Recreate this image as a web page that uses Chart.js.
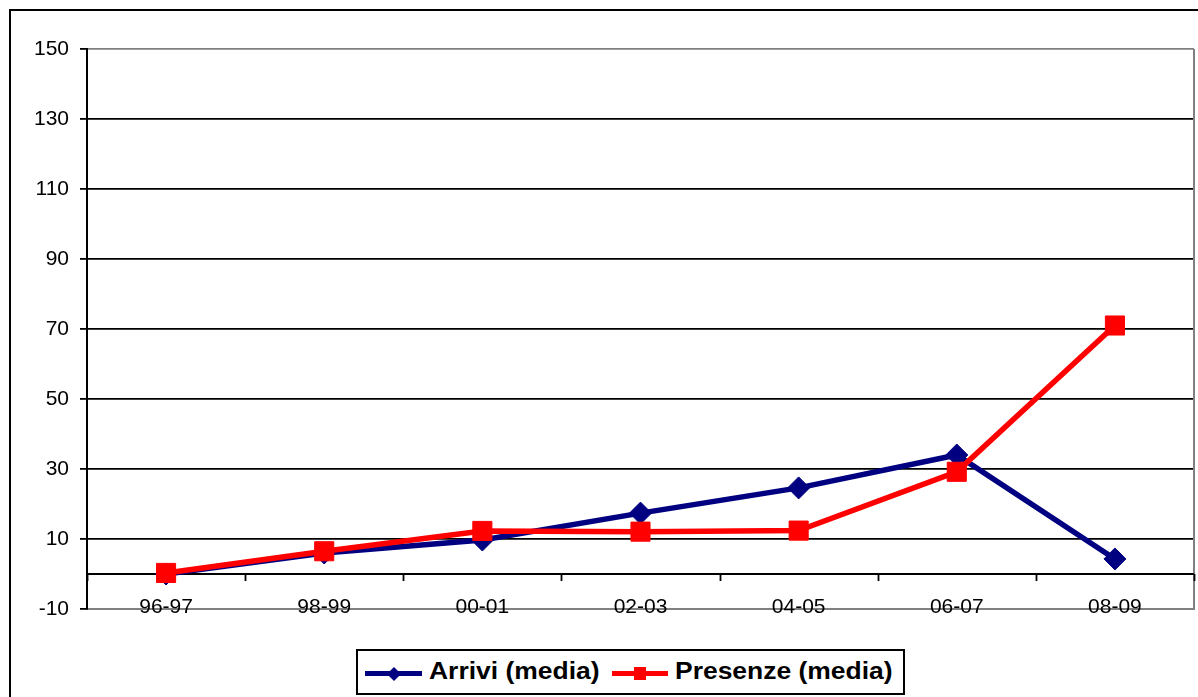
<!DOCTYPE html>
<html>
<head>
<meta charset="utf-8">
<script src="https://cdn.jsdelivr.net/npm/chart.js@4.4.1/dist/chart.umd.min.js"></script>
<style>
  html, body { margin: 0; padding: 0; background: #fff; overflow: hidden; }
  #wrap { position: relative; width: 1198px; height: 697px; }
  #frame { position: absolute; left: 9px; top: 9px; width: 1400px; height: 900px;
           border: 2px solid #000; box-sizing: border-box; }
  #c { position: absolute; left: 0; top: 0; }
  #legend { position: absolute; left: 356px; top: 649px; width: 549px; height: 46px;
            border: 2px solid #000; box-sizing: border-box; background: #fff;
            font-family: "Liberation Sans", Arial, sans-serif; font-weight: bold; font-size: 23px; }
  .sample { position: absolute; top: 20px; height: 5px; }
  .mark { position: absolute; }
  .lbl { position: absolute; top: 7px; line-height: 26px; white-space: nowrap;
         transform: scaleX(1.15); transform-origin: left center; color: #000; }
</style>
</head>
<body>
<div id="wrap">
  <div id="frame"></div>
  <canvas id="c" width="1198" height="697"></canvas>
  <div id="legend"></div>
</div>
<script>
// School years on the category axis
const categories = ['96-97', '98-99', '00-01', '02-03', '04-05', '06-07', '08-09'];
// Average values per year
const arrivi = [0, 6, 9.7, 17.4, 24.6, 34, 4.3];
const presenze = [0.3, 6.5, 12.3, 12.1, 12.4, 29.2, 71];
// Value axis ticks
const yTicks = [-10, 10, 30, 50, 70, 90, 110, 130, 150];

const seriesNames = ['Arrivi (media)', 'Presenze (media)'];
const NAVY = '#000080';
const RED = '#FF0000';
const FONT = '"Liberation Sans", Arial, sans-serif';

// Zero line across the plot with small category ticks, plus the grey right frame edge
const plotFrame = {
  id: 'plotFrame',
  beforeDatasetsDraw(chart) {
    const { ctx, chartArea, scales } = chart;
    const x = scales.x, y = scales.y;
    const y0 = y.getPixelForValue(0);
    ctx.save();
    ctx.strokeStyle = '#808080';
    ctx.lineWidth = 2;
    ctx.beginPath();
    ctx.moveTo(chartArea.right, chartArea.top);
    ctx.lineTo(chartArea.right, chartArea.bottom);
    ctx.stroke();
    ctx.strokeStyle = '#000';
    ctx.lineWidth = 1.8;
    ctx.beginPath();
    ctx.moveTo(chartArea.left, y0);
    ctx.lineTo(chartArea.right, y0);
    const half = (x.getPixelForValue(1) - x.getPixelForValue(0)) / 2;
    for (let i = 0; i <= categories.length; i++) {
      const px = Math.round(x.getPixelForValue(i) - half) + 0.5;
      ctx.moveTo(px, y0);
      ctx.lineTo(px, y0 + 7);
    }
    ctx.stroke();
    ctx.restore();
  }
};

new Chart(document.getElementById('c'), {
  type: 'line',
  data: {
    labels: categories,
    datasets: [
      {
        label: seriesNames[0], data: arrivi, order: 1,
        borderColor: NAVY, backgroundColor: NAVY, borderWidth: 5.5,
        pointStyle: 'rectRot', pointRadius: 11, pointBorderWidth: 1,
        pointBorderColor: NAVY, pointBackgroundColor: NAVY, tension: 0
      },
      {
        label: seriesNames[1], data: presenze, order: 0,
        borderColor: RED, backgroundColor: RED, borderWidth: 5.5,
        pointStyle: 'rect', pointRadius: 13.5, pointBorderWidth: 1,
        pointBorderColor: RED, pointBackgroundColor: RED, tension: 0
      }
    ]
  },
  options: {
    responsive: false,
    animation: false,
    devicePixelRatio: 1,
    layout: { autoPadding: false, padding: { top: 49, right: 4, left: 0, bottom: 0 } },
    plugins: { legend: { display: false }, tooltip: { enabled: false } },
    scales: {
      x: {
        offset: true,
        grid: { display: false },
        border: { display: true, color: '#808080', width: 2 },
        // mirror keeps the labels unclipped so they can sit across the bottom frame line
        ticks: { color: '#000', font: { family: FONT, size: 21 }, padding: -11, maxRotation: 0, mirror: true },
        afterFit(scale) { scale.height = 88; scale.paddingLeft = 0; scale.paddingRight = 0; }
      },
      y: {
        min: -10, max: 150,
        afterBuildTicks(scale) { scale.ticks = yTicks.map(v => ({ value: v })); },
        grid: {
          color: c => (c.tick && (c.tick.value === 150 || c.tick.value === -10)) ? '#808080' : '#000',
          lineWidth: 1.8,
          tickColor: '#000',
          tickLength: 7
        },
        border: { display: true, color: '#000', width: 2 },
        ticks: { color: '#000', font: { family: FONT, size: 21 }, padding: 11 },
        afterFit(scale) { scale.width = 87; }
      }
    }
  },
  plugins: [plotFrame]
});

// Legend: line sample with marker, then the series name
const legend = document.getElementById('legend');
const entries = [
  { name: seriesNames[0], color: NAVY, lineLeft: 7, lineWidth: 57, textLeft: 71, diamond: true },
  { name: seriesNames[1], color: RED, lineLeft: 254, lineWidth: 56, textLeft: 317, diamond: false }
];
entries.forEach(e => {
  const line = document.createElement('div');
  line.className = 'sample';
  line.style.left = e.lineLeft + 'px';
  line.style.width = e.lineWidth + 'px';
  line.style.background = e.color;
  legend.appendChild(line);
  const m = document.createElement('div');
  m.className = 'mark';
  m.style.background = e.color;
  if (e.diamond) {
    m.style.width = '10px'; m.style.height = '10px';
    m.style.left = (e.lineLeft + e.lineWidth / 2 - 5) + 'px';
    m.style.top = '17.5px';
    m.style.transform = 'rotate(45deg)';
  } else {
    m.style.width = '12px'; m.style.height = '13px';
    m.style.left = (e.lineLeft + e.lineWidth / 2 - 6) + 'px';
    m.style.top = '16px';
  }
  legend.appendChild(m);
  const t = document.createElement('span');
  t.className = 'lbl';
  t.style.left = e.textLeft + 'px';
  t.textContent = e.name;
  legend.appendChild(t);
});
</script>
</body>
</html>
